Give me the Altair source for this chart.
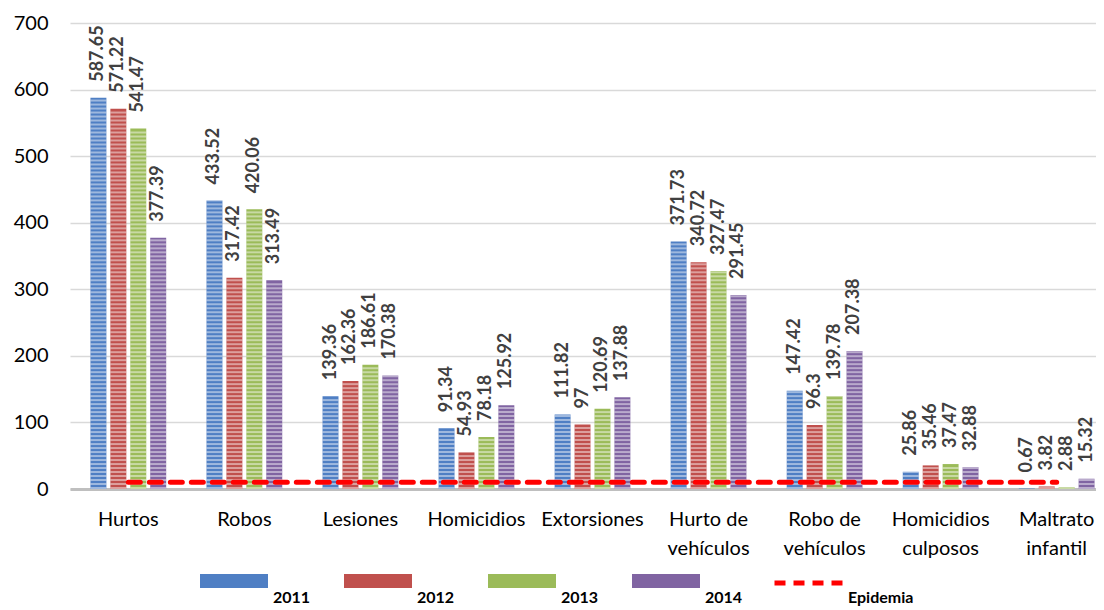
import altair as alt
import pandas as pd

categories = ["Hurtos", "Robos", "Lesiones", "Homicidios", "Extorsiones",
              "Hurto de\nvehículos", "Robo de\nvehículos", "Homicidios\nculposos", "Maltrato\ninfantil"]
years = ["2011", "2012", "2013", "2014"]
v2011 = [587.65, 433.52, 139.36, 91.34, 111.82, 371.73, 147.42, 25.86, 0.67]
v2012 = [571.22, 317.42, 162.36, 54.93, 97, 340.72, 96.3, 35.46, 3.82]
v2013 = [541.47, 420.06, 186.61, 78.18, 120.69, 327.47, 139.78, 37.47, 2.88]
v2014 = [377.39, 313.49, 170.38, 125.92, 137.88, 291.45, 207.38, 32.88, 15.32]
epidemia = [10, 10, 10, 10, 10, 10, 10, 10, 10]
colors = ["#4f7fc4", "#c0504d", "#9bbb59", "#8064a2"]

series = {"2011": v2011, "2012": v2012, "2013": v2013, "2014": v2014}
rows = []
for y in years:
    for c, v in zip(categories, series[y]):
        rows.append({"cat": c, "year": y, "value": v, "label": f"{v:g}"})
df = pd.DataFrame(rows)
epi = pd.DataFrame({"cat": categories, "value": epidemia, "serie": ["Epidemia"] * len(categories)})

FONT = "Lato"

x_enc = alt.X("cat:N", sort=categories, title=None,
              scale=alt.Scale(range=[0, 1045], paddingInner=0.313, paddingOuter=0.159),
              axis=alt.Axis(labelAngle=0, ticks=False, domainColor="#bfbfbf", domainWidth=3,
                            labelFont=FONT, labelFontSize=20, labelColor="#000000",
                            labelPadding=20, labelLineHeight=29, labelLimit=0,
                            labelOverlap=False,
                            labelExpr="split(datum.value, '\\n')"))
xo_enc = alt.XOffset("year:N", sort=years,
                     scale=alt.Scale(paddingInner=0.2, paddingOuter=0.1))
y_scale = alt.Scale(domain=[0, 700], nice=False)
y_enc = alt.Y("value:Q", scale=y_scale, title=None,
              axis=alt.Axis(values=[0, 100, 200, 300, 400, 500, 600, 700], grid=True,
                            gridColor="#d9d9d9", gridWidth=1.5, domain=False, ticks=False,
                            labelFont=FONT, labelFontSize=20, labelColor="#000000",
                            labelPadding=22))

base = alt.Chart(df)

bars = base.mark_bar().encode(
    x=x_enc, xOffset=xo_enc, y=y_enc,
    color=alt.Color("year:N", sort=years, scale=alt.Scale(domain=years, range=colors),
                    legend=alt.Legend(title=None, orient="none", direction="horizontal",
                                      legendX=130, legendY=541,
                                      symbolType="M-1,-0.706H1V-0.294H-1Z", symbolSize=4624,
                                      symbolStrokeWidth=0, symbolOpacity=1,
                                      labelFont=FONT, labelFontSize=16, labelFontWeight="bold",
                                      labelColor="#000000", labelOffset=5, columnPadding=33)),
)

stripes = base.transform_calculate(
    s="sequence(0, datum.value - 1.5, 6)"
).transform_flatten(["s"]).transform_calculate(
    s2="min(datum.s + 3, datum.value)"
).mark_bar(color="#ffffff", opacity=0.45).encode(
    x=alt.X("cat:N", sort=categories),
    xOffset=alt.XOffset("year:N", sort=years),
    y=alt.Y("s:Q", scale=y_scale),
    y2="s2:Q",
)

labels = base.mark_text(angle=270, align="left", baseline="middle", dx=16,
                        font=FONT, fontSize=18, fontWeight="bold", color="#404040").encode(
    x=alt.X("cat:N", sort=categories),
    xOffset=alt.XOffset("year:N", sort=years),
    y=alt.Y("value:Q", scale=y_scale),
    text="label:N",
)

line = alt.Chart(epi).mark_line(strokeWidth=5, strokeDash=[12, 9], strokeCap="round").encode(
    x=alt.X("cat:N", sort=categories),
    y=alt.Y("value:Q", scale=y_scale),
    stroke=alt.Stroke("serie:N", scale=alt.Scale(domain=["Epidemia"], range=["#ff0000"]),
                      legend=alt.Legend(title=None, orient="none", legendX=702, legendY=537,
                                        symbolType="M-1,-0.42H1", symbolSize=5041,
                                        symbolStrokeWidth=5, symbolDash=[11, 8],
                                        symbolStrokeColor="#ff0000",
                                        labelFont=FONT, labelFontSize=16, labelFontWeight="bold",
                                        labelColor="#000000", labelOffset=0)),
)

chart = alt.layer(bars, stripes, line, labels).resolve_scale(
    color="independent", stroke="independent"
).properties(
    width=1026, height=466,
    autosize=alt.AutoSizeParams(type="none"),
    padding={"left": 62, "top": 15, "right": 0, "bottom": 119},
    background="#ffffff",
).configure_view(stroke=None)

chart.save("out.html", embed_options={"renderer": "svg", "actions": False})
